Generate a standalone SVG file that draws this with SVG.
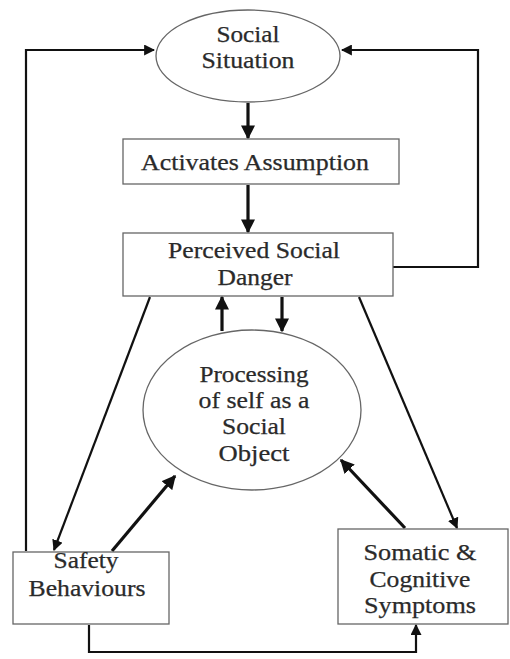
<svg xmlns="http://www.w3.org/2000/svg" width="510" height="659" viewBox="0 0 510 659">
  <style>
    .shape { fill: #ffffff; stroke: #666666; stroke-width: 1.3; }
    .label { font-family: "Liberation Serif", "Times New Roman", serif; font-size: 23px; fill: #2a2a2a; stroke: #2a2a2a; stroke-width: 0.25; text-anchor: middle; }
    .link { fill: none; stroke: #111111; stroke-width: 2.2; }
    .thick { stroke-width: 3.2; }
  </style>
  <defs>
    <marker id="head" viewBox="0 0 10 10" refX="9" refY="5" markerWidth="11" markerHeight="11" markerUnits="userSpaceOnUse" orient="auto">
      <path d="M0,0 L10,5 L0,10 z" fill="#111111"/>
    </marker>
    <marker id="headBig" viewBox="0 0 10 10" refX="9" refY="5" markerWidth="14" markerHeight="14" markerUnits="userSpaceOnUse" orient="auto">
      <path d="M0,0 L10,5 L0,10 z" fill="#111111"/>
    </marker>
  </defs>
  <rect width="510" height="659" fill="#ffffff"/>

  <g id="connectors">
    <!-- loop from safety behaviours back to the situation -->
    <path class="link" d="M26,551 V50 H154" marker-end="url(#head)"/>
    <!-- loop from perceived danger back to the situation -->
    <path class="link" d="M393,267 H478 V50 H342" marker-end="url(#head)"/>
    <!-- main chain -->
    <path class="link thick" d="M248,103 V138" marker-end="url(#headBig)"/>
    <path class="link thick" d="M248,185 V232" marker-end="url(#headBig)"/>
    <!-- danger <-> processing -->
    <path class="link thick" d="M222,331 V297" marker-end="url(#headBig)"/>
    <path class="link thick" d="M282,297 V331" marker-end="url(#headBig)"/>
    <!-- danger to the lower boxes -->
    <path class="link" d="M150,297 L54,550" marker-end="url(#head)"/>
    <path class="link" d="M359,297 L457,528" marker-end="url(#head)"/>
    <!-- lower boxes back to processing -->
    <path class="link thick" d="M112,551 L175,476" marker-end="url(#headBig)"/>
    <path class="link thick" d="M405,528 L341,460" marker-end="url(#headBig)"/>
    <!-- safety behaviours feed the symptoms -->
    <path class="link" d="M89,625 V652 H416 V625" marker-end="url(#head)"/>
  </g>

  <g id="social-situation">
    <ellipse class="shape" cx="248" cy="56" rx="92" ry="46"/>
    <text class="label" x="248" y="42" textLength="63" lengthAdjust="spacingAndGlyphs">Social</text>
    <text class="label" x="248" y="68" textLength="93" lengthAdjust="spacingAndGlyphs">Situation</text>
  </g>

  <g id="activates-assumption">
    <rect class="shape" x="123" y="139" width="276" height="45"/>
    <text class="label" x="255" y="170" textLength="228" lengthAdjust="spacingAndGlyphs">Activates Assumption</text>
  </g>

  <g id="perceived-danger">
    <rect class="shape" x="123" y="233" width="270" height="63"/>
    <text class="label" x="254" y="258" textLength="172" lengthAdjust="spacingAndGlyphs">Perceived Social</text>
    <text class="label" x="255" y="285" textLength="75" lengthAdjust="spacingAndGlyphs">Danger</text>
  </g>

  <g id="processing-self">
    <ellipse class="shape" cx="252" cy="410" rx="109" ry="80"/>
    <text class="label" x="254" y="382" textLength="109" lengthAdjust="spacingAndGlyphs">Processing</text>
    <text class="label" x="254" y="408" textLength="111" lengthAdjust="spacingAndGlyphs">of self as a</text>
    <text class="label" x="254" y="434" textLength="64" lengthAdjust="spacingAndGlyphs">Social</text>
    <text class="label" x="254" y="461" textLength="71" lengthAdjust="spacingAndGlyphs">Object</text>
  </g>

  <g id="safety-behaviours">
    <rect class="shape" x="13" y="552" width="156" height="72"/>
    <text class="label" x="86" y="568" textLength="65" lengthAdjust="spacingAndGlyphs">Safety</text>
    <text class="label" x="87" y="596" textLength="117" lengthAdjust="spacingAndGlyphs">Behaviours</text>
  </g>

  <g id="somatic-cognitive">
    <rect class="shape" x="338" y="529" width="170" height="95"/>
    <text class="label" x="420" y="560" textLength="113" lengthAdjust="spacingAndGlyphs">Somatic &amp;</text>
    <text class="label" x="420" y="587" textLength="101" lengthAdjust="spacingAndGlyphs">Cognitive</text>
    <text class="label" x="420" y="613" textLength="112" lengthAdjust="spacingAndGlyphs">Symptoms</text>
  </g>
</svg>
